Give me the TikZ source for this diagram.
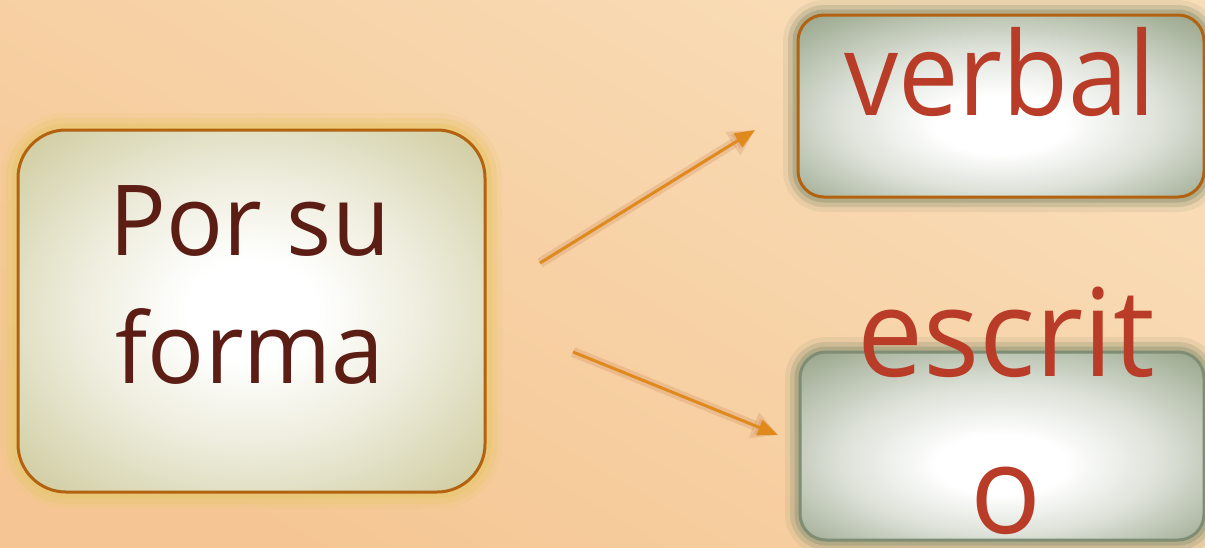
\documentclass[tikz,border=0pt]{standalone}
\usepackage{fontspec}
\setmainfont{Open Sans}
\newfontfamily\narrowsans[FakeStretch=0.93]{Open Sans}
\newfontfamily\slimsans[FakeStretch=0.965]{Open Sans}
\usetikzlibrary{arrows.meta}

\definecolor{bgtop}{HTML}{F9DDB8}
\definecolor{bgbot}{HTML}{F5C693}
\definecolor{glowyel}{HTML}{EAC876}
\definecolor{olivemid}{HTML}{D2CFA5}
\definecolor{olivebox}{HTML}{C2BF8A}
\definecolor{sagemid}{HTML}{9CA98F}
\definecolor{sagebox}{HTML}{879579}
\definecolor{rimorange}{HTML}{B3620F}
\definecolor{rimsage}{HTML}{7E8D73}
\definecolor{haloolive}{HTML}{A8A583}
\definecolor{textbrown}{HTML}{5B1D14}
\definecolor{textred}{HTML}{B83C27}
\definecolor{arroworange}{HTML}{E0891C}
\definecolor{arrowshade}{HTML}{C98150}

% white core fading to the box tint at the rim
\pgfdeclareradialshading{olivecore}{\pgfpoint{0bp}{0bp}}{%
  color(0bp)=(white); color(7bp)=(white); color(19bp)=(olivemid!40!white);
  color(33bp)=(olivemid); color(50bp)=(olivebox)}
\pgfdeclareradialshading{sagecore}{\pgfpoint{0bp}{-6bp}}{%
  color(0bp)=(white); color(8bp)=(white); color(20bp)=(sagemid!35!white);
  color(35bp)=(sagemid); color(50bp)=(sagebox)}

\begin{document}
\begin{tikzpicture}[x=1pt,y=-1pt,
  panel/.style={line width=3pt, inner sep=0pt},
  yellowhalo/.style={
    preaction={draw=glowyel, line width=34pt, opacity=0.2},
    preaction={draw=glowyel, line width=24pt, opacity=0.4},
    preaction={draw=glowyel, line width=13pt, opacity=0.8}},
  olivehalo/.style={
    preaction={draw=haloolive, line width=30pt, opacity=0.18},
    preaction={draw=haloolive, line width=20pt, opacity=0.4},
    preaction={draw=haloolive, line width=11pt, opacity=0.75}},
  sourcebox/.style={panel, yellowhalo, rounded corners=48pt,
    shading=olivecore, draw=rimorange},
  targetbox/.style={panel, olivehalo, rounded corners=26pt,
    shading=sagecore},
  brownword/.style={text=textbrown, align=center, inner sep=0pt,
    font=\slimsans\fontsize{98}{128}\selectfont},
  redword/.style={text=textred, align=center, inner sep=0pt},
  flow/.style={draw=arroworange, line width=3pt,
    -{Triangle[length=20pt,width=16pt]},
    preaction={draw=arrowshade, line width=10pt, opacity=0.25,
      -{Triangle[length=26pt,width=26pt]}}}
]
% background
\fill[top color=bgtop, bottom color=bgbot, shading angle=-30]
  (0,0) rectangle (1205,547);
\useasboundingbox (0,0) rectangle (1205,547);

% boxes
\node[sourcebox, minimum width=467pt, minimum height=362pt]
  (forma) at (251.5,311) {};
\node[targetbox, draw=rimorange, minimum width=406pt,
      minimum height=182pt] (verbal) at (1001,106) {};
\node[targetbox, draw=rimsage, minimum width=404pt,
      minimum height=188pt] (escrito) at (1002,446) {};

% box labels (base anchor sits on the last line)
\node[brownword, anchor=base] (forma-text) at (250,383) {Por su\\forma};
\node[redword, anchor=base, font=\narrowsans\fontsize{116}{140}\selectfont]
  (verbal-text) at (1000,115) {verbal};
\node[redword, anchor=base, font=\slimsans\fontsize{122}{157}\selectfont]
  (escrito-text) at (1006,533) {escrit\\o};

% connectors
\coordinate (up-start) at (540,263);
\coordinate (up-end) at (755,130);
\coordinate (down-start) at (573,352);
\coordinate (down-end) at (778,435);
\draw[flow] (up-start) -- (up-end);
\draw[flow] (down-start) -- (down-end);
\end{tikzpicture}
\end{document}
